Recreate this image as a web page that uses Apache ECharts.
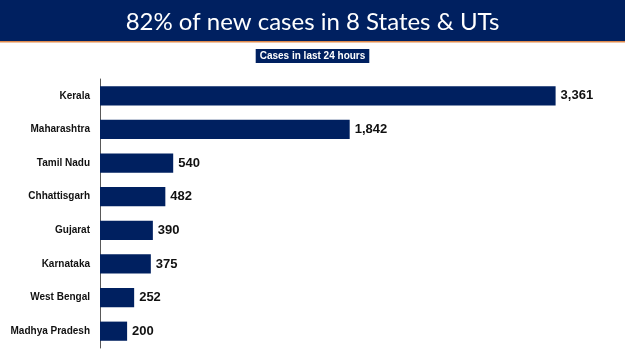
<!DOCTYPE html>
<html>
<head>
<meta charset="utf-8">
<script src="https://cdn.jsdelivr.net/npm/echarts@6/dist/echarts.min.js"></script>
<style>
  html, body { margin: 0; padding: 0; background: #fff; }
  #chart { width: 625px; height: 351px; }
</style>
</head>
<body>
<div id="chart"></div>
<script>
var states = ['Kerala', 'Maharashtra', 'Tamil Nadu', 'Chhattisgarh', 'Gujarat', 'Karnataka', 'West Bengal', 'Madhya Pradesh'];
var cases = [3361, 1842, 540, 482, 390, 375, 252, 200];

var NAVY = '#002060';
var FONT = '"Liberation Sans", Arial, sans-serif';

var myChart = echarts.init(document.getElementById('chart'));
var option = {
  animation: false,
  title: [{
    text: '82% of new cases in 8 States & UTs',
    left: 'center',
    top: 5,
    textStyle: {
      color: '#fff',
      fontFamily: 'Lato, "Open Sans", sans-serif',
      fontWeight: 'normal',
      fontSize: 24
    }
  }, {
    text: 'Cases in last 24 hours',
    left: 'center',
    top: 49,
    padding: [2, 4, 2, 4],
    backgroundColor: NAVY,
    textStyle: {
      color: '#fff',
      fontFamily: FONT,
      fontWeight: 'bold',
      fontSize: 10,
      lineHeight: 10
    }
  }],
  graphic: [{
    type: 'rect',
    z: -1,
    shape: { x: 0, y: 0, width: 625, height: 41 },
    style: { fill: NAVY }
  }, {
    type: 'rect',
    z: -1,
    shape: { x: 0, y: 41, width: 625, height: 1.5 },
    style: { fill: '#e08a4c' }
  }],
  grid: {
    left: 100,
    right: 37,
    top: 79,
    bottom: 3
  },
  xAxis: {
    type: 'value',
    min: 0,
    max: 3600,
    show: false
  },
  yAxis: {
    type: 'category',
    inverse: true,
    data: states,
    axisLine: { lineStyle: { color: '#595959', width: 1 } },
    axisTick: { length: 4, lineStyle: { color: '#595959' } },
    axisLabel: {
      margin: 10,
      color: '#111',
      fontFamily: FONT,
      fontWeight: 'bold',
      fontSize: 10
    }
  },
  series: [{
    type: 'bar',
    data: cases,
    barCategoryGap: '43%',
    itemStyle: { color: NAVY },
    label: {
      show: true,
      position: 'right',
      distance: 5,
      color: '#111',
      fontFamily: FONT,
      fontWeight: 'bold',
      fontSize: 13,
      formatter: function (p) {
        return p.value.toLocaleString('en-US');
      }
    }
  }]
};
myChart.setOption(option);
</script>
</body>
</html>
